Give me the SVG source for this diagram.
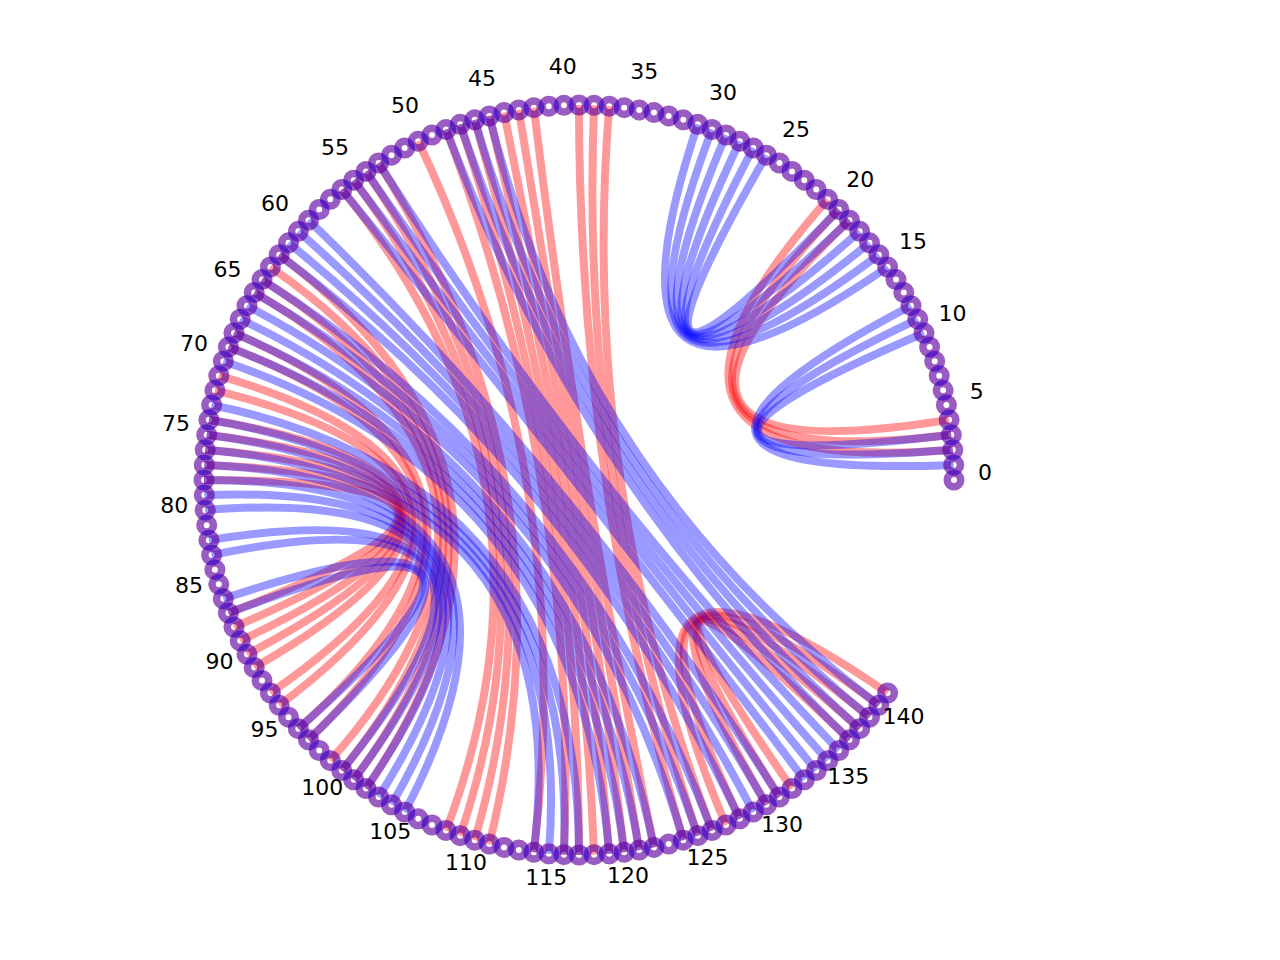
<svg xmlns="http://www.w3.org/2000/svg" xmlns:xlink="http://www.w3.org/1999/xlink" width="1280" height="960" viewBox="0 0 1280 960">
<style>
.r{fill:none;stroke:#ff0000;stroke-opacity:0.4;stroke-width:8}
.b{fill:none;stroke:#0000ff;stroke-opacity:0.4;stroke-width:8}
.nr{fill:none;stroke:#ff0000;stroke-opacity:0.4;stroke-width:7.5}
.nb{fill:none;stroke:#0000ff;stroke-opacity:0.4;stroke-width:7.5}
text{font-family:"DejaVu Sans","Liberation Sans",sans-serif;font-size:22px;text-anchor:middle;fill:#000}
</style>
<defs>
<circle id="rr" class="nr" cx="0" cy="0" r="6.75"/>
<circle id="rb" class="nb" cx="0" cy="0" r="6.75"/>
</defs>
<rect width="1280" height="960" fill="#fff"/>
<g id="connectors">
<g id="red-edges">
<path class="r" d="M952.8 449.8Q579 480 827.7 199.3"/>
<path class="r" d="M951.3 434.8Q579 480 838.8 209.5"/>
<path class="r" d="M949.1 419.8Q579 480 849.5 220.2"/>
<path class="r" d="M609.2 106.2Q579 480 712 830.6"/>
<path class="r" d="M594.1 105.3Q579 480 697.8 835.7"/>
<path class="r" d="M579 105Q579 480 683.3 840.2"/>
<path class="r" d="M533.8 107.7Q579 480 654 847.4"/>
<path class="r" d="M518.8 109.9Q579 480 639.2 850.1"/>
<path class="r" d="M504 112.6Q579 480 624.2 852.3"/>
<path class="r" d="M489.3 115.9Q579 480 609.2 853.8"/>
<path class="r" d="M474.7 119.8Q579 480 594.1 854.7"/>
<path class="r" d="M460.2 124.3Q579 480 579 855"/>
<path class="r" d="M446 129.4Q579 480 563.9 854.7"/>
<path class="r" d="M418.2 141.2Q579 480 533.8 852.3"/>
<path class="r" d="M378.6 163Q579 480 489.3 844.1"/>
<path class="r" d="M366 171.4Q579 480 474.7 840.2"/>
<path class="r" d="M353.7 180.2Q579 480 460.2 835.7"/>
<path class="r" d="M341.8 189.5Q579 480 446 830.6"/>
<path class="r" d="M279.2 254.7Q579 480 366 788.6"/>
<path class="r" d="M270.4 267Q579 480 353.7 779.8"/>
<path class="r" d="M262 279.6Q579 480 341.8 770.5"/>
<path class="r" d="M254.2 292.5Q579 480 330.3 760.7"/>
<path class="r" d="M234 333Q579 480 308.5 739.8"/>
<path class="r" d="M228.4 347Q579 480 298.3 728.7"/>
<path class="r" d="M218.8 375.7Q579 480 279.2 705.3"/>
<path class="r" d="M214.9 390.3Q579 480 270.4 693"/>
<path class="r" d="M208.9 419.8Q579 480 254.2 667.5"/>
<path class="r" d="M206.7 434.8Q579 480 247 654.3"/>
<path class="r" d="M205.2 449.8Q579 480 240.2 640.8"/>
<path class="r" d="M204.3 464.9Q579 480 234 627"/>
<path class="r" d="M204 480Q579 480 228.4 613"/>
<path class="r" d="M726 825Q579 480 887.6 693"/>
<path class="r" d="M739.8 818.8Q579 480 878.8 705.3"/>
<path class="r" d="M766.5 804.8Q579 480 869.5 717.2"/>
<path class="r" d="M779.4 797Q579 480 859.7 728.7"/>
<path class="r" d="M792 788.6Q579 480 849.5 739.8"/>
</g>
<g id="blue-edges">
<path class="b" d="M953.7 464.9Q579 480 911 305.7"/>
<path class="b" d="M952.8 449.8Q579 480 917.8 319.2"/>
<path class="b" d="M951.3 434.8Q579 480 924 333"/>
<path class="b" d="M887.6 267Q579 480 697.8 124.3"/>
<path class="b" d="M878.8 254.7Q579 480 712 129.4"/>
<path class="b" d="M869.5 242.8Q579 480 726 135"/>
<path class="b" d="M859.7 231.3Q579 480 739.8 141.2"/>
<path class="b" d="M849.5 220.2Q579 480 753.3 147.9"/>
<path class="b" d="M838.8 209.5Q579 480 766.5 155.2"/>
<path class="b" d="M489.3 115.9Q579 480 878.8 705.3"/>
<path class="b" d="M474.7 119.8Q579 480 869.5 717.2"/>
<path class="b" d="M460.2 124.3Q579 480 859.7 728.7"/>
<path class="b" d="M446 129.4Q579 480 849.5 739.8"/>
<path class="b" d="M378.6 163Q579 480 838.8 750.5"/>
<path class="b" d="M366 171.4Q579 480 827.7 760.7"/>
<path class="b" d="M353.7 180.2Q579 480 816.2 770.5"/>
<path class="b" d="M341.8 189.5Q579 480 804.3 779.8"/>
<path class="b" d="M308.5 220.2Q579 480 779.4 797"/>
<path class="b" d="M298.3 231.3Q579 480 766.5 804.8"/>
<path class="b" d="M288.5 242.8Q579 480 753.3 812"/>
<path class="b" d="M279.2 254.7Q579 480 739.8 818.8"/>
<path class="b" d="M262 279.6Q579 480 712 830.6"/>
<path class="b" d="M254.2 292.5Q579 480 697.8 835.7"/>
<path class="b" d="M247 305.7Q579 480 683.3 840.2"/>
<path class="b" d="M240.2 319.2Q579 480 654 847.4"/>
<path class="b" d="M234 333Q579 480 639.2 850.1"/>
<path class="b" d="M228.4 347Q579 480 624.2 852.3"/>
<path class="b" d="M223.3 361.2Q579 480 609.2 853.8"/>
<path class="b" d="M211.6 405Q579 480 579 855"/>
<path class="b" d="M208.9 419.8Q579 480 563.9 854.7"/>
<path class="b" d="M206.7 434.8Q579 480 548.8 853.8"/>
<path class="b" d="M205.2 449.8Q579 480 533.8 852.3"/>
<path class="b" d="M204.3 464.9Q579 480 404.7 812"/>
<path class="b" d="M204 480Q579 480 391.5 804.8"/>
<path class="b" d="M204.3 495.1Q579 480 378.6 797"/>
<path class="b" d="M205.2 510.2Q579 480 366 788.6"/>
<path class="b" d="M208.9 540.2Q579 480 353.7 779.8"/>
<path class="b" d="M211.6 555Q579 480 341.8 770.5"/>
<path class="b" d="M223.3 598.8Q579 480 308.5 739.8"/>
<path class="b" d="M228.4 613Q579 480 298.3 728.7"/>
</g>
</g>
<g id="nodes">
<g id="node-rings-red">
<use href="#rr" x="954" y="480"/><use href="#rr" x="953.7" y="464.9"/><use href="#rr" x="952.8" y="449.8"/><use href="#rr" x="951.3" y="434.8"/><use href="#rr" x="949.1" y="419.8"/><use href="#rr" x="946.4" y="405"/><use href="#rr" x="943.1" y="390.3"/><use href="#rr" x="939.2" y="375.7"/><use href="#rr" x="934.7" y="361.2"/><use href="#rr" x="929.6" y="347"/>
<use href="#rr" x="924" y="333"/><use href="#rr" x="917.8" y="319.2"/><use href="#rr" x="911" y="305.7"/><use href="#rr" x="903.8" y="292.5"/><use href="#rr" x="896" y="279.6"/><use href="#rr" x="887.6" y="267"/><use href="#rr" x="878.8" y="254.7"/><use href="#rr" x="869.5" y="242.8"/><use href="#rr" x="859.7" y="231.3"/><use href="#rr" x="849.5" y="220.2"/>
<use href="#rr" x="838.8" y="209.5"/><use href="#rr" x="827.7" y="199.3"/><use href="#rr" x="816.2" y="189.5"/><use href="#rr" x="804.3" y="180.2"/><use href="#rr" x="792" y="171.4"/><use href="#rr" x="779.4" y="163"/><use href="#rr" x="766.5" y="155.2"/><use href="#rr" x="753.3" y="147.9"/><use href="#rr" x="739.8" y="141.2"/><use href="#rr" x="726" y="135"/>
<use href="#rr" x="712" y="129.4"/><use href="#rr" x="697.8" y="124.3"/><use href="#rr" x="683.3" y="119.8"/><use href="#rr" x="668.7" y="115.9"/><use href="#rr" x="654" y="112.6"/><use href="#rr" x="639.2" y="109.9"/><use href="#rr" x="624.2" y="107.7"/><use href="#rr" x="609.2" y="106.2"/><use href="#rr" x="594.1" y="105.3"/><use href="#rr" x="579" y="105"/>
<use href="#rr" x="563.9" y="105.3"/><use href="#rr" x="548.8" y="106.2"/><use href="#rr" x="533.8" y="107.7"/><use href="#rr" x="518.8" y="109.9"/><use href="#rr" x="504" y="112.6"/><use href="#rr" x="489.3" y="115.9"/><use href="#rr" x="474.7" y="119.8"/><use href="#rr" x="460.2" y="124.3"/><use href="#rr" x="446" y="129.4"/><use href="#rr" x="432" y="135"/>
<use href="#rr" x="418.2" y="141.2"/><use href="#rr" x="404.7" y="148"/><use href="#rr" x="391.5" y="155.2"/><use href="#rr" x="378.6" y="163"/><use href="#rr" x="366" y="171.4"/><use href="#rr" x="353.7" y="180.2"/><use href="#rr" x="341.8" y="189.5"/><use href="#rr" x="330.3" y="199.3"/><use href="#rr" x="319.2" y="209.5"/><use href="#rr" x="308.5" y="220.2"/>
<use href="#rr" x="298.3" y="231.3"/><use href="#rr" x="288.5" y="242.8"/><use href="#rr" x="279.2" y="254.7"/><use href="#rr" x="270.4" y="267"/><use href="#rr" x="262" y="279.6"/><use href="#rr" x="254.2" y="292.5"/><use href="#rr" x="247" y="305.7"/><use href="#rr" x="240.2" y="319.2"/><use href="#rr" x="234" y="333"/><use href="#rr" x="228.4" y="347"/>
<use href="#rr" x="223.3" y="361.2"/><use href="#rr" x="218.8" y="375.7"/><use href="#rr" x="214.9" y="390.3"/><use href="#rr" x="211.6" y="405"/><use href="#rr" x="208.9" y="419.8"/><use href="#rr" x="206.7" y="434.8"/><use href="#rr" x="205.2" y="449.8"/><use href="#rr" x="204.3" y="464.9"/><use href="#rr" x="204" y="480"/><use href="#rr" x="204.3" y="495.1"/>
<use href="#rr" x="205.2" y="510.2"/><use href="#rr" x="206.7" y="525.2"/><use href="#rr" x="208.9" y="540.2"/><use href="#rr" x="211.6" y="555"/><use href="#rr" x="214.9" y="569.7"/><use href="#rr" x="218.8" y="584.3"/><use href="#rr" x="223.3" y="598.8"/><use href="#rr" x="228.4" y="613"/><use href="#rr" x="234" y="627"/><use href="#rr" x="240.2" y="640.8"/>
<use href="#rr" x="247" y="654.3"/><use href="#rr" x="254.2" y="667.5"/><use href="#rr" x="262" y="680.4"/><use href="#rr" x="270.4" y="693"/><use href="#rr" x="279.2" y="705.3"/><use href="#rr" x="288.5" y="717.2"/><use href="#rr" x="298.3" y="728.7"/><use href="#rr" x="308.5" y="739.8"/><use href="#rr" x="319.2" y="750.5"/><use href="#rr" x="330.3" y="760.7"/>
<use href="#rr" x="341.8" y="770.5"/><use href="#rr" x="353.7" y="779.8"/><use href="#rr" x="366" y="788.6"/><use href="#rr" x="378.6" y="797"/><use href="#rr" x="391.5" y="804.8"/><use href="#rr" x="404.7" y="812"/><use href="#rr" x="418.2" y="818.8"/><use href="#rr" x="432" y="825"/><use href="#rr" x="446" y="830.6"/><use href="#rr" x="460.2" y="835.7"/>
<use href="#rr" x="474.7" y="840.2"/><use href="#rr" x="489.3" y="844.1"/><use href="#rr" x="504" y="847.4"/><use href="#rr" x="518.8" y="850.1"/><use href="#rr" x="533.8" y="852.3"/><use href="#rr" x="548.8" y="853.8"/><use href="#rr" x="563.9" y="854.7"/><use href="#rr" x="579" y="855"/><use href="#rr" x="594.1" y="854.7"/><use href="#rr" x="609.2" y="853.8"/>
<use href="#rr" x="624.2" y="852.3"/><use href="#rr" x="639.2" y="850.1"/><use href="#rr" x="654" y="847.4"/><use href="#rr" x="668.7" y="844.1"/><use href="#rr" x="683.3" y="840.2"/><use href="#rr" x="697.8" y="835.7"/><use href="#rr" x="712" y="830.6"/><use href="#rr" x="726" y="825"/><use href="#rr" x="739.8" y="818.8"/><use href="#rr" x="753.3" y="812"/>
<use href="#rr" x="766.5" y="804.8"/><use href="#rr" x="779.4" y="797"/><use href="#rr" x="792" y="788.6"/><use href="#rr" x="804.3" y="779.8"/><use href="#rr" x="816.2" y="770.5"/><use href="#rr" x="827.7" y="760.7"/><use href="#rr" x="838.8" y="750.5"/><use href="#rr" x="849.5" y="739.8"/><use href="#rr" x="859.7" y="728.7"/><use href="#rr" x="869.5" y="717.2"/>
<use href="#rr" x="878.8" y="705.3"/><use href="#rr" x="887.6" y="693"/>
</g>
<g id="n0"><use href="#rb" x="954" y="480"/></g>
<g id="n1"><use href="#rb" x="953.7" y="464.9"/></g>
<g id="n2"><use href="#rb" x="952.8" y="449.8"/></g>
<g id="n3"><use href="#rb" x="951.3" y="434.8"/></g>
<g id="n4"><use href="#rb" x="949.1" y="419.8"/></g>
<g id="n5"><use href="#rb" x="946.4" y="405"/></g>
<g id="n6"><use href="#rb" x="943.1" y="390.3"/></g>
<g id="n7"><use href="#rb" x="939.2" y="375.7"/></g>
<g id="n8"><use href="#rb" x="934.7" y="361.2"/></g>
<g id="n9"><use href="#rb" x="929.6" y="347"/></g>
<g id="n10"><use href="#rb" x="924" y="333"/></g>
<g id="n11"><use href="#rb" x="917.8" y="319.2"/></g>
<g id="n12"><use href="#rb" x="911" y="305.7"/></g>
<g id="n13"><use href="#rb" x="903.8" y="292.5"/></g>
<g id="n14"><use href="#rb" x="896" y="279.6"/></g>
<g id="n15"><use href="#rb" x="887.6" y="267"/></g>
<g id="n16"><use href="#rb" x="878.8" y="254.7"/></g>
<g id="n17"><use href="#rb" x="869.5" y="242.8"/></g>
<g id="n18"><use href="#rb" x="859.7" y="231.3"/></g>
<g id="n19"><use href="#rb" x="849.5" y="220.2"/></g>
<g id="n20"><use href="#rb" x="838.8" y="209.5"/></g>
<g id="n21"><use href="#rb" x="827.7" y="199.3"/></g>
<g id="n22"><use href="#rb" x="816.2" y="189.5"/></g>
<g id="n23"><use href="#rb" x="804.3" y="180.2"/></g>
<g id="n24"><use href="#rb" x="792" y="171.4"/></g>
<g id="n25"><use href="#rb" x="779.4" y="163"/></g>
<g id="n26"><use href="#rb" x="766.5" y="155.2"/></g>
<g id="n27"><use href="#rb" x="753.3" y="147.9"/></g>
<g id="n28"><use href="#rb" x="739.8" y="141.2"/></g>
<g id="n29"><use href="#rb" x="726" y="135"/></g>
<g id="n30"><use href="#rb" x="712" y="129.4"/></g>
<g id="n31"><use href="#rb" x="697.8" y="124.3"/></g>
<g id="n32"><use href="#rb" x="683.3" y="119.8"/></g>
<g id="n33"><use href="#rb" x="668.7" y="115.9"/></g>
<g id="n34"><use href="#rb" x="654" y="112.6"/></g>
<g id="n35"><use href="#rb" x="639.2" y="109.9"/></g>
<g id="n36"><use href="#rb" x="624.2" y="107.7"/></g>
<g id="n37"><use href="#rb" x="609.2" y="106.2"/></g>
<g id="n38"><use href="#rb" x="594.1" y="105.3"/></g>
<g id="n39"><use href="#rb" x="579" y="105"/></g>
<g id="n40"><use href="#rb" x="563.9" y="105.3"/></g>
<g id="n41"><use href="#rb" x="548.8" y="106.2"/></g>
<g id="n42"><use href="#rb" x="533.8" y="107.7"/></g>
<g id="n43"><use href="#rb" x="518.8" y="109.9"/></g>
<g id="n44"><use href="#rb" x="504" y="112.6"/></g>
<g id="n45"><use href="#rb" x="489.3" y="115.9"/></g>
<g id="n46"><use href="#rb" x="474.7" y="119.8"/></g>
<g id="n47"><use href="#rb" x="460.2" y="124.3"/></g>
<g id="n48"><use href="#rb" x="446" y="129.4"/></g>
<g id="n49"><use href="#rb" x="432" y="135"/></g>
<g id="n50"><use href="#rb" x="418.2" y="141.2"/></g>
<g id="n51"><use href="#rb" x="404.7" y="148"/></g>
<g id="n52"><use href="#rb" x="391.5" y="155.2"/></g>
<g id="n53"><use href="#rb" x="378.6" y="163"/></g>
<g id="n54"><use href="#rb" x="366" y="171.4"/></g>
<g id="n55"><use href="#rb" x="353.7" y="180.2"/></g>
<g id="n56"><use href="#rb" x="341.8" y="189.5"/></g>
<g id="n57"><use href="#rb" x="330.3" y="199.3"/></g>
<g id="n58"><use href="#rb" x="319.2" y="209.5"/></g>
<g id="n59"><use href="#rb" x="308.5" y="220.2"/></g>
<g id="n60"><use href="#rb" x="298.3" y="231.3"/></g>
<g id="n61"><use href="#rb" x="288.5" y="242.8"/></g>
<g id="n62"><use href="#rb" x="279.2" y="254.7"/></g>
<g id="n63"><use href="#rb" x="270.4" y="267"/></g>
<g id="n64"><use href="#rb" x="262" y="279.6"/></g>
<g id="n65"><use href="#rb" x="254.2" y="292.5"/></g>
<g id="n66"><use href="#rb" x="247" y="305.7"/></g>
<g id="n67"><use href="#rb" x="240.2" y="319.2"/></g>
<g id="n68"><use href="#rb" x="234" y="333"/></g>
<g id="n69"><use href="#rb" x="228.4" y="347"/></g>
<g id="n70"><use href="#rb" x="223.3" y="361.2"/></g>
<g id="n71"><use href="#rb" x="218.8" y="375.7"/></g>
<g id="n72"><use href="#rb" x="214.9" y="390.3"/></g>
<g id="n73"><use href="#rb" x="211.6" y="405"/></g>
<g id="n74"><use href="#rb" x="208.9" y="419.8"/></g>
<g id="n75"><use href="#rb" x="206.7" y="434.8"/></g>
<g id="n76"><use href="#rb" x="205.2" y="449.8"/></g>
<g id="n77"><use href="#rb" x="204.3" y="464.9"/></g>
<g id="n78"><use href="#rb" x="204" y="480"/></g>
<g id="n79"><use href="#rb" x="204.3" y="495.1"/></g>
<g id="n80"><use href="#rb" x="205.2" y="510.2"/></g>
<g id="n81"><use href="#rb" x="206.7" y="525.2"/></g>
<g id="n82"><use href="#rb" x="208.9" y="540.2"/></g>
<g id="n83"><use href="#rb" x="211.6" y="555"/></g>
<g id="n84"><use href="#rb" x="214.9" y="569.7"/></g>
<g id="n85"><use href="#rb" x="218.8" y="584.3"/></g>
<g id="n86"><use href="#rb" x="223.3" y="598.8"/></g>
<g id="n87"><use href="#rb" x="228.4" y="613"/></g>
<g id="n88"><use href="#rb" x="234" y="627"/></g>
<g id="n89"><use href="#rb" x="240.2" y="640.8"/></g>
<g id="n90"><use href="#rb" x="247" y="654.3"/></g>
<g id="n91"><use href="#rb" x="254.2" y="667.5"/></g>
<g id="n92"><use href="#rb" x="262" y="680.4"/></g>
<g id="n93"><use href="#rb" x="270.4" y="693"/></g>
<g id="n94"><use href="#rb" x="279.2" y="705.3"/></g>
<g id="n95"><use href="#rb" x="288.5" y="717.2"/></g>
<g id="n96"><use href="#rb" x="298.3" y="728.7"/></g>
<g id="n97"><use href="#rb" x="308.5" y="739.8"/></g>
<g id="n98"><use href="#rb" x="319.2" y="750.5"/></g>
<g id="n99"><use href="#rb" x="330.3" y="760.7"/></g>
<g id="n100"><use href="#rb" x="341.8" y="770.5"/></g>
<g id="n101"><use href="#rb" x="353.7" y="779.8"/></g>
<g id="n102"><use href="#rb" x="366" y="788.6"/></g>
<g id="n103"><use href="#rb" x="378.6" y="797"/></g>
<g id="n104"><use href="#rb" x="391.5" y="804.8"/></g>
<g id="n105"><use href="#rb" x="404.7" y="812"/></g>
<g id="n106"><use href="#rb" x="418.2" y="818.8"/></g>
<g id="n107"><use href="#rb" x="432" y="825"/></g>
<g id="n108"><use href="#rb" x="446" y="830.6"/></g>
<g id="n109"><use href="#rb" x="460.2" y="835.7"/></g>
<g id="n110"><use href="#rb" x="474.7" y="840.2"/></g>
<g id="n111"><use href="#rb" x="489.3" y="844.1"/></g>
<g id="n112"><use href="#rb" x="504" y="847.4"/></g>
<g id="n113"><use href="#rb" x="518.8" y="850.1"/></g>
<g id="n114"><use href="#rb" x="533.8" y="852.3"/></g>
<g id="n115"><use href="#rb" x="548.8" y="853.8"/></g>
<g id="n116"><use href="#rb" x="563.9" y="854.7"/></g>
<g id="n117"><use href="#rb" x="579" y="855"/></g>
<g id="n118"><use href="#rb" x="594.1" y="854.7"/></g>
<g id="n119"><use href="#rb" x="609.2" y="853.8"/></g>
<g id="n120"><use href="#rb" x="624.2" y="852.3"/></g>
<g id="n121"><use href="#rb" x="639.2" y="850.1"/></g>
<g id="n122"><use href="#rb" x="654" y="847.4"/></g>
<g id="n123"><use href="#rb" x="668.7" y="844.1"/></g>
<g id="n124"><use href="#rb" x="683.3" y="840.2"/></g>
<g id="n125"><use href="#rb" x="697.8" y="835.7"/></g>
<g id="n126"><use href="#rb" x="712" y="830.6"/></g>
<g id="n127"><use href="#rb" x="726" y="825"/></g>
<g id="n128"><use href="#rb" x="739.8" y="818.8"/></g>
<g id="n129"><use href="#rb" x="753.3" y="812"/></g>
<g id="n130"><use href="#rb" x="766.5" y="804.8"/></g>
<g id="n131"><use href="#rb" x="779.4" y="797"/></g>
<g id="n132"><use href="#rb" x="792" y="788.6"/></g>
<g id="n133"><use href="#rb" x="804.3" y="779.8"/></g>
<g id="n134"><use href="#rb" x="816.2" y="770.5"/></g>
<g id="n135"><use href="#rb" x="827.7" y="760.7"/></g>
<g id="n136"><use href="#rb" x="838.8" y="750.5"/></g>
<g id="n137"><use href="#rb" x="849.5" y="739.8"/></g>
<g id="n138"><use href="#rb" x="859.7" y="728.7"/></g>
<g id="n139"><use href="#rb" x="869.5" y="717.2"/></g>
<g id="n140"><use href="#rb" x="878.8" y="705.3"/></g>
<g id="n141"><use href="#rb" x="887.6" y="693"/></g>
</g>
<g id="labels">
<text x="985" y="480">0</text>
<text x="976.8" y="398.8">5</text>
<text x="952.5" y="320.8">10</text>
<text x="913.1" y="249.4">15</text>
<text x="860.3" y="187.1">20</text>
<text x="796" y="136.8">25</text>
<text x="723" y="100.4">30</text>
<text x="644.2" y="79.3">35</text>
<text x="562.7" y="74.3">40</text>
<text x="481.9" y="85.8">45</text>
<text x="404.9" y="113.2">50</text>
<text x="335.1" y="155.4">55</text>
<text x="275.1" y="210.7">60</text>
<text x="227.4" y="277">65</text>
<text x="193.9" y="351.4">70</text>
<text x="175.9" y="431.1">75</text>
<text x="174.3" y="512.7">80</text>
<text x="189" y="592.9">85</text>
<text x="219.6" y="668.7">90</text>
<text x="264.5" y="736.8">95</text>
<text x="322.2" y="794.5">100</text>
<text x="390.3" y="839.4">105</text>
<text x="466.1" y="870">110</text>
<text x="546.3" y="884.7">115</text>
<text x="628" y="883.1">120</text>
<text x="707.6" y="865.1">125</text>
<text x="782" y="831.6">130</text>
<text x="848.3" y="783.9">135</text>
<text x="903.6" y="723.9">140</text>
</g>
</svg>
